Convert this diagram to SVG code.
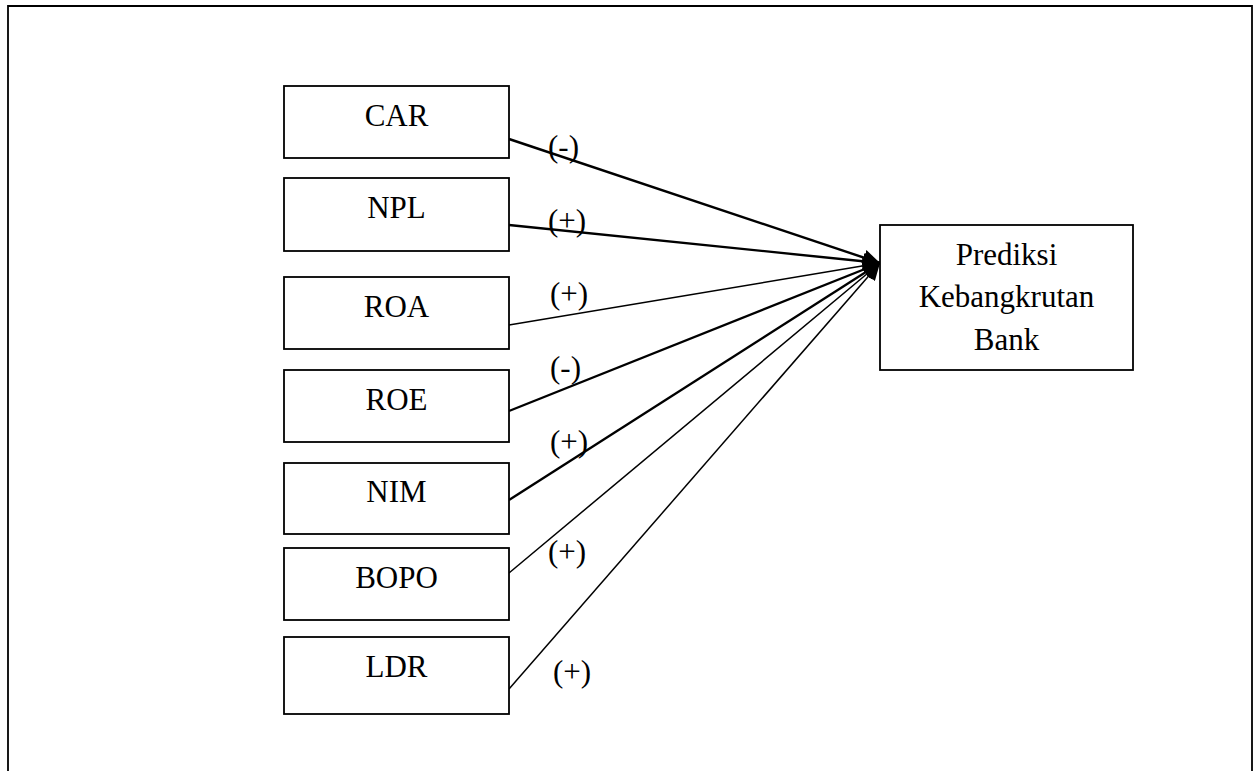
<svg xmlns="http://www.w3.org/2000/svg" width="1260" height="771" viewBox="0 0 1260 771">
<style>
.box{fill:#fff;stroke:#000;stroke-width:1.8}
.t{font-family:"Liberation Serif","Times New Roman",serif;font-size:31px;fill:#000;text-anchor:middle}
.l{font-family:"Liberation Serif","Times New Roman",serif;font-size:31px;fill:#000}
.c{fill:none;stroke:#000;marker-end:url(#ah)}
.thick{stroke-width:2.4}
.thin{stroke-width:1.5}
</style>
<defs>
<marker id="ah" markerUnits="userSpaceOnUse" markerWidth="18" markerHeight="16" refX="17" refY="8" orient="auto">
<path d="M0,0 L17,8 L0,16 Z" fill="#000"/>
</marker>
</defs>
<rect width="1260" height="771" fill="#fff"/>
<path d="M8,775 L8,6 L1252,6 L1252,775" fill="none" stroke="#000" stroke-width="1.8"/>
<g id="connectors">
<line class="c thick" x1="509" y1="139" x2="880" y2="263"/>
<line class="c thick" x1="509" y1="225" x2="880" y2="263"/>
<line class="c thin" x1="509" y1="325" x2="880" y2="263"/>
<line class="c thick" x1="509" y1="411" x2="880" y2="263"/>
<line class="c thick" x1="509" y1="500" x2="880" y2="263"/>
<line class="c thin" x1="509" y1="573" x2="880" y2="263"/>
<line class="c thin" x1="509" y1="689" x2="880" y2="263"/>
<text class="l" x="548" y="157">(-)</text>
<text class="l" x="548" y="231">(+)</text>
<text class="l" x="550" y="304">(+)</text>
<text class="l" x="550" y="378">(-)</text>
<text class="l" x="550" y="452">(+)</text>
<text class="l" x="548" y="562">(+)</text>
<text class="l" x="553" y="682">(+)</text>
</g>
<g id="car"><rect class="box" x="284" y="86" width="225" height="72"/><text class="t" x="396.5" y="126">CAR</text></g>
<g id="npl"><rect class="box" x="284" y="178" width="225" height="73"/><text class="t" x="396.5" y="218">NPL</text></g>
<g id="roa"><rect class="box" x="284" y="277" width="225" height="72"/><text class="t" x="396.5" y="317">ROA</text></g>
<g id="roe"><rect class="box" x="284" y="370" width="225" height="72"/><text class="t" x="396.5" y="410">ROE</text></g>
<g id="nim"><rect class="box" x="284" y="463" width="225" height="71"/><text class="t" x="396.5" y="502">NIM</text></g>
<g id="bopo"><rect class="box" x="284" y="548" width="225" height="72"/><text class="t" x="396.5" y="588">BOPO</text></g>
<g id="ldr"><rect class="box" x="284" y="637" width="225" height="77"/><text class="t" x="396.5" y="677">LDR</text></g>
<g id="prediksi"><rect class="box" x="880" y="225" width="253" height="145"/>
<text class="t" x="1006.5" y="265">Prediksi</text>
<text class="t" x="1006.5" y="307">Kebangkrutan</text>
<text class="t" x="1006.5" y="350">Bank</text></g>
</svg>
